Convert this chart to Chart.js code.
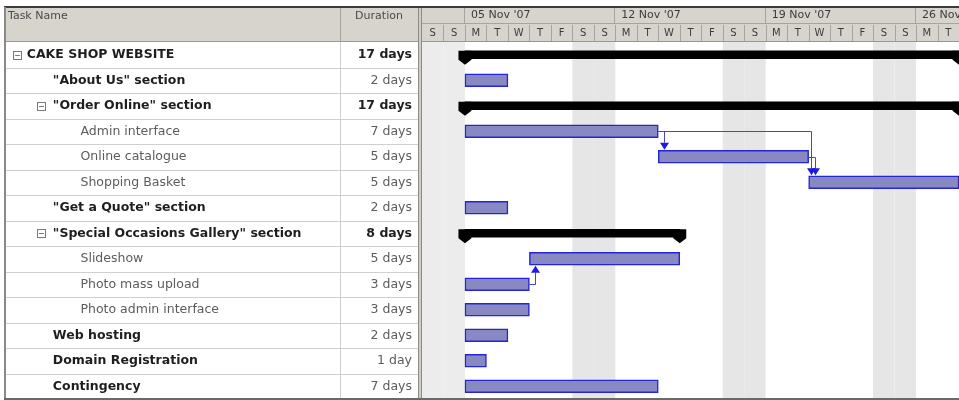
<!DOCTYPE html>
<html>
<head>
    <title>Cake Shop Website - Gantt Chart</title>
    <script src="https://cdn.jsdelivr.net/npm/chart.js"></script>
    <style>
        html, body {
            margin: 0;
            padding: 0;
            background: #fff;
        }
        #wrap {
            width: 959px;
            height: 400px;
        }
    </style>
</head>
<body>
    <div id="wrap"><canvas id="gantt" width="959" height="400"></canvas></div>

    <script>
        // task sheet
        const taskNames = ['CAKE SHOP WEBSITE', '"About Us" section', '"Order Online" section', 'Admin interface',
            'Online catalogue', 'Shopping Basket', '"Get a Quote" section', '"Special Occasions Gallery" section',
            'Slideshow', 'Photo mass upload', 'Photo admin interface', 'Web hosting', 'Domain Registration', 'Contingency'];
        const durations = ['17 days', '2 days', '17 days', '7 days', '5 days', '5 days', '2 days', '8 days',
            '5 days', '3 days', '3 days', '2 days', '1 day', '7 days'];
        const outlineLevel = [0, 1, 1, 2, 2, 2, 1, 1, 2, 2, 2, 1, 1, 1];
        const isSummary = [true, false, true, false, false, false, false, true, false, false, false, false, false, false];
        const boldName = [true, true, true, false, false, false, true, true, false, false, false, true, true, true];

        // calendar days counted from Sat 03 Nov 2007 (0 = start of that day)
        const startDay = [2, 2, 2, 2, 11, 18, 2, 2, 5, 2, 2, 2, 2, 2];
        const endDay = [25, 4, 25, 11, 18, 25, 4, 12, 12, 5, 5, 4, 3, 11];

        // finish-to-start links [predecessor row, successor row]
        const links = [[3, 4], [3, 5], [4, 5], [9, 8]];

        // timescale
        const dayLetters = ['S', 'S', 'M', 'T', 'W', 'T', 'F', 'S', 'S', 'M', 'T', 'W', 'T', 'F',
            'S', 'S', 'M', 'T', 'W', 'T', 'F', 'S', 'S', 'M', 'T'];
        const weekLabels = ["05 Nov '07", "12 Nov '07", "19 Nov '07", "26 Nov '07"];
        const weekStartDay = [2, 9, 16, 23];
        const columnHeads = ['Task Name', 'Duration'];

        const FONT = 'DejaVu Sans';
        Chart.defaults.font.family = FONT;

        // indent names with spaces (space width differs for bold)
        function indentName(i) {
            let indentPx = [23, 48, 75][outlineLevel[i]];
            let spaceW = boldName[i] ? 4.35 : 3.97;
            return ' '.repeat(Math.round(indentPx / spaceW)) + taskNames[i];
        }
        const nameLabels = taskNames.map((n, i) => indentName(i));

        function noPad(scale) {
            scale.paddingLeft = 0;
            scale.paddingRight = 0;
            scale.paddingTop = 0;
            scale.paddingBottom = 0;
        }

        const sheetPlugin = {
            id: 'sheet',
            beforeDraw(chart) {
                const {ctx, chartArea: a} = chart;
                const {x, xw, y, yd} = chart.scales;
                const W = chart.width;
                const left = y.left;
                const headTop = xw.top;
                const rowH = y.getPixelForValue(1) - y.getPixelForValue(0);
                ctx.save();

                // non-working days
                dayLetters.forEach((d, i) => {
                    if (d !== 'S') return;
                    let x0 = x.getPixelForValue(i), x1 = x.getPixelForValue(i + 1);
                    ctx.fillStyle = i < 2 ? '#ececec' : '#e6e6e6';
                    ctx.fillRect(x0, a.top, x1 - x0, a.bottom - a.top);
                });

                // header band
                ctx.fillStyle = '#d7d4cd';
                ctx.fillRect(left, headTop, W - left, a.top - headTop);

                ctx.lineWidth = 1;
                ctx.strokeStyle = '#a8a49c';
                ctx.beginPath();
                // tier split
                ctx.moveTo(a.left, x.top + 0.5);
                ctx.lineTo(W, x.top + 0.5);
                // day cells
                for (let i = 1; i < dayLetters.length; i++) {
                    let px = Math.round(x.getPixelForValue(i)) + 0.5;
                    ctx.moveTo(px, x.top + 2);
                    ctx.lineTo(px, a.top - 1);
                }
                // week cells
                weekStartDay.forEach(d => {
                    let px = Math.round(x.getPixelForValue(d)) - 0.5;
                    ctx.moveTo(px, headTop + 1);
                    ctx.lineTo(px, x.top);
                });
                // column split in header
                ctx.moveTo(yd.left + 0.5, headTop);
                ctx.lineTo(yd.left + 0.5, a.top);
                ctx.stroke();

                // header bottom
                ctx.strokeStyle = '#9c9890';
                ctx.beginPath();
                ctx.moveTo(left, a.top - 0.5);
                ctx.lineTo(W, a.top - 0.5);
                ctx.stroke();

                // sheet row lines
                ctx.strokeStyle = '#cfcfcf';
                ctx.beginPath();
                for (let i = 0; i < taskNames.length; i++) {
                    let py = Math.round(y.getPixelForValue(i) + rowH / 2) + 0.5;
                    ctx.moveTo(left, py);
                    ctx.lineTo(a.left - 4, py);
                }
                ctx.moveTo(yd.left + 0.5, a.top);
                ctx.lineTo(yd.left + 0.5, a.bottom);
                ctx.stroke();

                // splitter between sheet and timescale
                ctx.fillStyle = '#d0cdc6';
                ctx.fillRect(a.left - 4, headTop, 4, a.bottom - headTop);
                ctx.fillStyle = '#8e8a84';
                ctx.fillRect(a.left - 4, headTop, 1, a.bottom - headTop);
                ctx.fillRect(a.left - 1, headTop, 1, a.bottom - headTop);

                // column titles
                ctx.fillStyle = '#4a4a4a';
                ctx.font = '11px ' + FONT;
                ctx.textBaseline = 'middle';
                ctx.textAlign = 'left';
                ctx.fillText(columnHeads[0], left + 3, headTop + 9);
                ctx.textAlign = 'center';
                ctx.fillText(columnHeads[1], (yd.left + yd.right - 4) / 2, headTop + 9);

                // outline boxes
                ctx.strokeStyle = '#7a7a7a';
                ctx.fillStyle = '#ffffff';
                isSummary.forEach((s, i) => {
                    if (!s) return;
                    let bx = left + 8 + outlineLevel[i] * 24;
                    let by = Math.round(y.getPixelForValue(i)) - 4;
                    ctx.fillRect(bx, by, 8, 8);
                    ctx.strokeRect(bx + 0.5, by + 0.5, 8, 8);
                    ctx.beginPath();
                    ctx.moveTo(bx + 2, by + 4.5);
                    ctx.lineTo(bx + 7, by + 4.5);
                    ctx.stroke();
                });
                ctx.restore();
            },
            afterDatasetsDraw(chart) {
                const {ctx} = chart;
                const {x, y} = chart.scales;
                ctx.save();

                // summary end caps
                ctx.fillStyle = '#000';
                isSummary.forEach((s, i) => {
                    if (!s) return;
                    let yc = y.getPixelForValue(i);
                    [startDay[i], endDay[i]].forEach(d => {
                        let cx = x.getPixelForValue(d);
                        ctx.beginPath();
                        ctx.moveTo(cx - 6.5, yc - 4);
                        ctx.lineTo(cx + 6.5, yc - 4);
                        ctx.lineTo(cx + 6.5, yc + 5);
                        ctx.lineTo(cx, yc + 10);
                        ctx.lineTo(cx - 6.5, yc + 5);
                        ctx.closePath();
                        ctx.fill();
                    });
                });

                // links
                ctx.lineWidth = 1;
                links.forEach(([p, s]) => {
                    let xe = x.getPixelForValue(endDay[p]);
                    let xs = x.getPixelForValue(startDay[s]);
                    let yp = Math.round(y.getPixelForValue(p)) + 0.5;
                    let ys = y.getPixelForValue(s);
                    let vx = Math.round(Math.max(xe + 6, xs + 2)) + 0.5;
                    let down = ys > yp;
                    let tip = down ? ys - 7 : ys + 7;
                    let base = down ? tip - 7 : tip + 7;
                    ctx.strokeStyle = '#4646c8';
                    ctx.beginPath();
                    ctx.moveTo(xe, yp);
                    ctx.lineTo(vx, yp);
                    ctx.lineTo(vx, base);
                    ctx.stroke();
                    ctx.fillStyle = '#1a1ae0';
                    ctx.beginPath();
                    ctx.moveTo(vx - 4.5, base);
                    ctx.lineTo(vx + 4.5, base);
                    ctx.lineTo(vx, tip);
                    ctx.closePath();
                    ctx.fill();
                });
                ctx.restore();
            },
            afterDraw(chart) {
                const {ctx, chartArea: a} = chart;
                const left = chart.scales.y.left;
                const top = chart.scales.xw.top;
                ctx.save();
                ctx.fillStyle = '#3a3a3a';
                ctx.fillRect(left - 1, top - 1, chart.width - left + 1, 2);
                ctx.fillStyle = '#8a8a8a';
                ctx.fillRect(left - 1, top, 2, a.bottom - top);
                ctx.fillStyle = '#6a6a6a';
                ctx.fillRect(left - 1, a.bottom - 1, chart.width - left + 1, 2);
                ctx.restore();
            }
        };

        const rows = taskNames.map((n, i) => i);

        new Chart(document.getElementById('gantt'), {
            type: 'bar',
            data: {
                labels: nameLabels,
                datasets: [{
                    label: 'Task',
                    data: rows.map(i => isSummary[i] ? null : [startDay[i], endDay[i]]),
                    backgroundColor: '#8888c2',
                    borderColor: '#2424d8',
                    borderWidth: 1.5,
                    borderSkipped: false,
                    barThickness: 13,
                    grouped: false
                }, {
                    label: 'Summary',
                    data: rows.map(i => isSummary[i] ? [startDay[i], endDay[i]] : null),
                    backgroundColor: '#000000',
                    borderWidth: 0,
                    barThickness: 8,
                    grouped: false
                }]
            },
            options: {
                indexAxis: 'y',
                responsive: false,
                animation: false,
                layout: {padding: {left: 5, top: 7, right: 0, bottom: 1}},
                plugins: {
                    legend: {display: false},
                    tooltip: {enabled: false}
                },
                scales: {
                    x: {
                        type: 'linear',
                        position: 'top',
                        weight: 1,
                        min: 0,
                        max: dayLetters.length,
                        grid: {display: false, drawTicks: false},
                        border: {display: false},
                        afterBuildTicks: s => { s.ticks = dayLetters.map((d, i) => ({value: i + 0.5})); },
                        ticks: {
                            autoSkip: false,
                            maxRotation: 0,
                            padding: 3,
                            font: {size: 10},
                            color: '#3c3c3c',
                            callback: (v, i) => dayLetters[i]
                        },
                        afterFit: s => { s.height = 19; noPad(s); }
                    },
                    xw: {
                        type: 'linear',
                        position: 'top',
                        weight: 2,
                        min: 0,
                        max: dayLetters.length,
                        grid: {display: false, drawTicks: false},
                        border: {display: false},
                        afterBuildTicks: s => { s.ticks = weekStartDay.map(d => ({value: d})); },
                        ticks: {
                            autoSkip: false,
                            maxRotation: 0,
                            align: 'start',
                            labelOffset: 6,
                            padding: 1,
                            font: {size: 11},
                            color: '#3c3c3c',
                            callback: (v, i) => weekLabels[i]
                        },
                        afterFit: s => { s.height = 16; noPad(s); }
                    },
                    y: {
                        type: 'category',
                        position: 'left',
                        weight: 2,
                        offset: true,
                        grid: {display: false, drawTicks: false},
                        border: {display: false},
                        ticks: {
                            autoSkip: false,
                            crossAlign: 'far',
                            padding: 0,
                            font: c => ({family: FONT, size: 12.5, weight: boldName[c.index] ? 'bold' : 'normal'}),
                            color: c => boldName[c.index] ? '#1e1e1e' : '#5c5c5c'
                        },
                        afterFit: s => { s.width = 335; noPad(s); }
                    },
                    yd: {
                        type: 'category',
                        position: 'left',
                        weight: 1,
                        labels: durations,
                        offset: true,
                        grid: {display: false, drawTicks: false},
                        border: {display: false},
                        ticks: {
                            autoSkip: false,
                            padding: 10,
                            font: c => ({family: FONT, size: 12.5, weight: isSummary[c.index] ? 'bold' : 'normal'}),
                            color: c => isSummary[c.index] ? '#1e1e1e' : '#5c5c5c'
                        },
                        afterFit: s => { s.width = 82; noPad(s); }
                    }
                }
            },
            plugins: [sheetPlugin]
        });
    </script>
</body>
</html>
